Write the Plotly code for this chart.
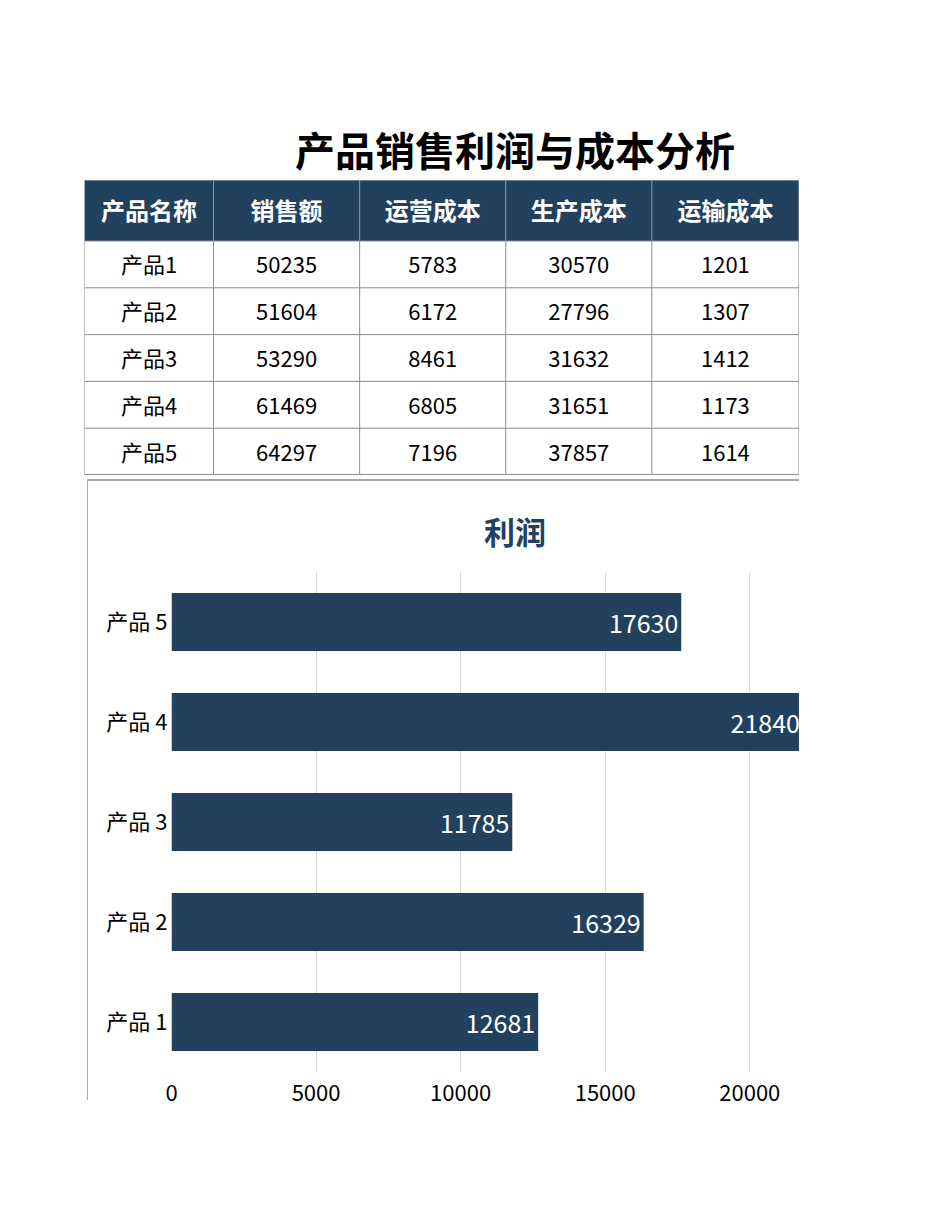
import plotly.graph_objects as go

W, H = 950, 1230
FONT = "Noto Sans CJK SC"
NAVY = "#22415F"

headers = ["产品名称", "销售额", "运营成本", "生产成本", "运输成本"]
products = ["产品1", "产品2", "产品3", "产品4", "产品5"]
sales = [50235, 51604, 53290, 61469, 64297]
op_cost = [5783, 6172, 8461, 6805, 7196]
prod_cost = [30570, 27796, 31632, 31651, 37857]
ship_cost = [1201, 1307, 1412, 1173, 1614]

chart_cats = ["产品 1", "产品 2", "产品 3", "产品 4", "产品 5"]
profit = [12681, 16329, 11785, 21840, 17630]
x_ticks = [0, 5000, 10000, 15000, 20000]

# table geometry (pixels)
col_widths = [129, 146, 146, 146, 147]
header_h = 61
row_h = 46.8
TX0, TX1, TY0 = 84, 798, 180
TY1 = TY0 + header_h + row_h * len(products)


def px_x(v):
    return ((v - 5.6) / 0.993) / W


def px_y(v):
    return 1 - v / H


fig = go.Figure()

# ---- table built on its own axes (units = pixels inside table) ----
bounds = [0]
for w in col_widths:
    bounds.append(bounds[-1] + w)
col_centers = [(bounds[i] + bounds[i + 1]) / 2 for i in range(len(col_widths))]
row_bounds = [0, header_h] + [header_h + row_h * (i + 1) for i in range(len(products))]
row_centers = [header_h + row_h * (i + 0.5) + 3.5 for i in range(len(products))]

columns = [products, sales, op_cost, prod_cost, ship_cost]
cell_x, cell_y, cell_t = [], [], []
for ci, col in enumerate(columns):
    for ri, v in enumerate(col):
        cell_x.append(col_centers[ci])
        cell_y.append(row_centers[ri])
        cell_t.append(str(v))

shapes = []
shapes.append(dict(type="rect", xref="x2", yref="y2", x0=0, x1=bounds[-1],
                   y0=0, y1=header_h, fillcolor=NAVY, line=dict(width=0), layer="below"))
for b in bounds:
    shapes.append(dict(type="line", xref="x2", yref="y2", x0=b, x1=b,
                       y0=0, y1=header_h, line=dict(color="#8E99A6", width=1)))
    shapes.append(dict(type="line", xref="x2", yref="y2", x0=b, x1=b,
                       y0=header_h, y1=row_bounds[-1], line=dict(color="#8C8C8C", width=1)))
for i, rb in enumerate(row_bounds):
    shapes.append(dict(type="line", xref="x2", yref="y2", x0=0, x1=bounds[-1],
                       y0=rb, y1=rb,
                       line=dict(color="#B4B9C0" if i == 0 else "#8C8C8C",
                                 width=2 if i == len(row_bounds) - 1 else 1)))

fig.add_trace(go.Scatter(
    x=col_centers, y=[header_h / 2 + 3] * len(headers),
    text=[f"<b>{h}</b>" for h in headers],
    mode="text", textposition="middle center",
    textfont=dict(family=FONT, size=24, color="white"),
    xaxis="x2", yaxis="y2", hoverinfo="skip",
))
fig.add_trace(go.Scatter(
    x=cell_x, y=cell_y, text=cell_t,
    mode="text", textposition="middle center",
    textfont=dict(family=FONT, size=22, color="black"),
    xaxis="x2", yaxis="y2", hoverinfo="skip",
))

# ---- profit bar chart ----
fig.add_trace(go.Bar(
    x=profit,
    y=chart_cats,
    orientation="h",
    marker=dict(color=NAVY, line=dict(width=0)),
    width=0.58,
    text=[str(v) for v in profit],
    textposition="inside",
    insidetextanchor="end",
    textfont=dict(family=FONT, size=25, color="white"),
    cliponaxis=True,
    xaxis="x",
    yaxis="y",
))

shapes += [
    dict(type="line", xref="paper", yref="paper",
         x0=px_x(87), x1=px_x(798), y0=px_y(480), y1=px_y(480),
         line=dict(color="#A6A6A6", width=2)),
    dict(type="line", xref="paper", yref="paper",
         x0=px_x(87), x1=px_x(87), y0=px_y(480), y1=px_y(1100),
         line=dict(color="#A6A6A6", width=1)),
]

fig.update_layout(
    width=W,
    height=H,
    margin=dict(l=0, r=0, t=0, b=0),
    paper_bgcolor="white",
    plot_bgcolor="rgba(0,0,0,0)",
    showlegend=False,
    xaxis=dict(
        domain=[px_x(171), px_x(798)],
        range=[0, 21700],
        tickvals=x_ticks,
        ticktext=[str(v) for v in x_ticks],
        showgrid=True,
        gridcolor="#D9D9D9",
        gridwidth=1,
        zeroline=False,
        showline=False,
        ticks="",
        ticklabelstandoff=6,
        tickfont=dict(family=FONT, size=22, color="black"),
        anchor="y",
    ),
    yaxis=dict(
        domain=[px_y(1072), px_y(572)],
        range=[-0.5, 4.5],
        showgrid=False,
        zeroline=False,
        showline=False,
        ticks="",
        ticklabelstandoff=3,
        tickfont=dict(family=FONT, size=22, color="black"),
        anchor="x",
    ),
    xaxis2=dict(
        domain=[px_x(TX0), px_x(TX1)],
        range=[0, bounds[-1]],
        visible=False, anchor="y2", fixedrange=True,
    ),
    yaxis2=dict(
        domain=[px_y(TY1), px_y(TY0)],
        range=[row_bounds[-1], 0],
        visible=False, anchor="x2", fixedrange=True,
    ),
    annotations=[
        dict(text="<b>产品销售利润与成本分析</b>", x=px_x(514), y=px_y(149),
             xref="paper", yref="paper", showarrow=False,
             xanchor="center", yanchor="middle",
             font=dict(family=FONT, size=40, color="black")),
        dict(text="<b>利润</b>", x=px_x(514), y=px_y(531),
             xref="paper", yref="paper", showarrow=False,
             xanchor="center", yanchor="middle",
             font=dict(family=FONT, size=31, color=NAVY)),
    ],
    shapes=shapes,
)

fig.write_html("out.html")
